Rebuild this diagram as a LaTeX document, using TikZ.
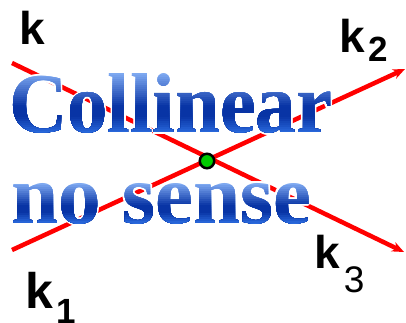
\documentclass[tikz,border=0pt]{standalone}
\usepackage{fontspec}
\usetikzlibrary{arrows.meta,calc}
\newfontfamily\labfont{Liberation Sans}
\newfontfamily\bigserif{Liberation Serif}
\newcommand\bigfont{\bigserif\bfseries\fontsize{85}{85}\selectfont}
\newcommand\labsize{\labfont\bfseries\fontsize{46}{46}\selectfont}
\definecolor{lred}{RGB}{255,0,0}
\definecolor{dgreen}{RGB}{0,204,0}
\definecolor{btop}{RGB}{125,168,240}
\definecolor{bmid}{RGB}{8,52,165}
\definecolor{bbot}{RGB}{45,110,225}
\newcommand\txtA{\scalebox{0.95}[1]{Collinear}}
\newcommand\txtB{no sense}
% #1 = position along the letter height, 0..100
\newcommand\setgradcolor[1]{%
  \pgfmathtruncatemacro\gpos{#1}%
  \ifnum\gpos<54
    \pgfmathtruncatemacro\gmix{100-100*\gpos/54}\colorlet{gcol}{btop!\gmix!bmid}%
  \else\ifnum\gpos<71
    \colorlet{gcol}{bmid}%
  \else
    \pgfmathtruncatemacro\gmix{100-100*(\gpos-71)/29}\colorlet{gcol}{bmid!\gmix!bbot}%
  \fi\fi}
\begin{document}
\begin{tikzpicture}[x=1pt,y=-1pt,
  redline/.style={draw=lred,line width=4.5pt,-{Stealth[length=12pt,width=10pt]}},
  lab/.style={anchor=base west,inner sep=0pt,font=\labsize},
  bigtxt/.style={anchor=base west,inner sep=0pt,font=\bigfont}]
\useasboundingbox[fill=white] (0,0) rectangle (406,323);
% red vectors
\coordinate (a1) at (12,63);
\coordinate (a2) at (404,252);
\coordinate (b1) at (12,250);
\coordinate (b2) at (405,69);
\draw[redline] (a1) -- (a2);
\draw[redline] (b1) -- (b2);
% intersection point
\node[circle,fill=dgreen,draw=black,line width=2.5pt,minimum size=14.5pt,inner sep=0pt] (dot) at (207,161) {};
% labels
\node[lab] (k) at (19,45) {k};
\node[lab] (k2) at (339,53) {k\kern4pt\raisebox{-9pt}{\fontsize{35}{35}\selectfont 2}};
\node[lab] (k3) at (314,268) {k\kern4pt\raisebox{-24pt}{\fontsize{37}{37}\mdseries\selectfont 3}};
\node[lab,font=\labfont\bfseries\fontsize{50}{50}\selectfont] (k1) at (25,308) {k\kern3pt\raisebox{-15pt}{\fontsize{35}{35}\selectfont 1}};
% big text: white halo
\foreach \a in {0,45,...,315} {
  \node[bigtxt,text=white] at ($(9,133)+(\a:2)$) {\txtA};
  \node[bigtxt,text=white] at ($(11,223)+(\a:2)$) {\txtB};
}
\node[bigtxt,text=white] (c1) at (9,133) {\txtA};
\node[bigtxt,text=white] (c2) at (11,223) {\txtB};
% big text: vertical gradient, pixel-aligned layers painted top to bottom
\foreach \i in {0,...,30} {
  \setgradcolor{100*\i/30}
  \begin{scope}
    \ifnum\i>0 \clip (0,{74+2*\i}) rectangle (406,150);\fi
    \node[bigtxt,text=gcol] at (c1.base west) {\txtA};
  \end{scope}
}
\foreach \i in {0,...,20} {
  \setgradcolor{100*\i/20}
  \begin{scope}
    \ifnum\i>0 \clip (0,{183+2*\i}) rectangle (406,240);\fi
    \node[bigtxt,text=gcol] at (c2.base west) {\txtB};
  \end{scope}
}
\end{tikzpicture}
\end{document}
